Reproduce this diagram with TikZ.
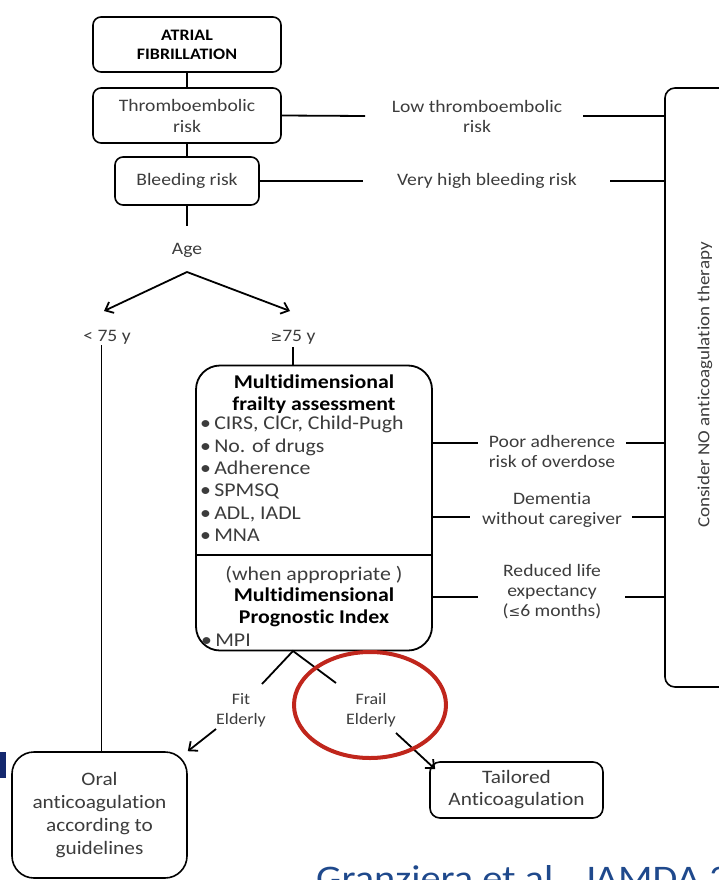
\documentclass[tikz,border=0pt]{standalone}
\usepackage{fontspec}
\setmainfont{Carlito}[FakeStretch=1.12,Ligatures=NoCommon]
\newfontfamily\symfont{DejaVu Sans}
\usetikzlibrary{arrows.meta,calc}
\definecolor{txtgray}{RGB}{60,60,60}
\definecolor{circred}{RGB}{192,38,28}
\definecolor{citeblue}{RGB}{31,73,140}
\definecolor{navybar}{RGB}{20,40,110}
\begin{document}
\begin{tikzpicture}[x=1pt,y=-1pt,
  box/.style={draw, line width=1.6pt, rounded corners=8pt, align=center, inner sep=0pt},
  lbl/.style={text=txtgray, align=center, inner sep=1pt, font=\fontsize{17.5}{20}\selectfont},
  conn/.style={line width=1.8pt},
  arr/.style={line width=1.8pt, -{Straight Barb[length=7pt,width=12pt,line width=1.8pt]}}]
\useasboundingbox (0,0) rectangle (719,880);
\clip (0,0) rectangle (719,880);
% top chain
\node[box, minimum width=188pt, minimum height=55pt, font=\bfseries\fontsize{16}{19}\selectfont] (af) at (187,44.5) {ATRIAL\\FIBRILLATION};
\node[box, minimum width=188pt, minimum height=55pt, text=txtgray, font=\fontsize{17.5}{21}\selectfont] (thr) at (187,115.5) {Thromboembolic\\risk};
\node[box, minimum width=144pt, minimum height=48pt, text=txtgray, font=\fontsize{17.5}{21}\selectfont] (bleed) at (187,181) {Bleeding risk};
\node[lbl] (age) at (187,250) {Age};
\coordinate (agestem) at (187,226);
\coordinate (agefork) at (187,272);
\draw[conn] (af) -- (thr);
\draw[conn] (thr) -- (bleed);
\draw[conn] (bleed.south) -- (agestem);
\node[lbl] (lt) at (107,337) {< 75 y};
\node[lbl] (ge) at (293,337) {{\symfont\fontsize{14}{16}\selectfont ≥}75 y};
\coordinate (ltend) at (104,311);
\coordinate (geend) at (290,311);
\draw[arr] (agefork) -- (ltend);
\draw[arr] (agefork) -- (geend);
% big box
\node[draw, line width=1.8pt, rounded corners=24pt, minimum width=236pt, minimum height=285pt, inner sep=0pt] (mda) at (314,508) {};
\draw[conn] (ge.south) ++(0,2) -- (ge.south |- mda.north);
\draw[line width=1.6pt] (mda.west |- 0,555) -- (mda.east |- 0,555);
\node[align=center, font=\bfseries\fontsize{19.5}{22}\selectfont, inner sep=0pt] (mtitle) at (314,394) {Multidimensional\\frailty assessment};
\node[anchor=north west, align=left, text=txtgray, font=\fontsize{19.5}{22.4}\selectfont, inner sep=0pt] (mlist) at (200,416)
 {\textbullet\,CIRS, ClCr, Child-Pugh\\\textbullet\,No. of drugs\\\textbullet\,Adherence\\\textbullet\,SPMSQ\\\textbullet\,ADL, IADL\\\textbullet\,MNA};
\node[align=center, text=txtgray, font=\fontsize{19.5}{22}\selectfont, inner sep=0pt] (mwhen) at (314,575) {(when appropriate )};
\node[align=center, font=\bfseries\fontsize{19.5}{22}\selectfont, inner sep=0pt] (mpi) at (314,607) {Multidimensional\\Prognostic Index};
\node[anchor=west, text=txtgray, font=\fontsize{19.5}{22}\selectfont, inner sep=0pt] (mpil) at (201,640) {\textbullet\,MPI};
% right tall box
\node[draw, line width=1.6pt, rounded corners=10pt, minimum width=100pt, minimum height=599pt, inner sep=0pt] (nobox) at (715,387.5) {};
\node[rotate=90, text=txtgray, font=\fontsize{17}{20}\selectfont] (notext) at (705,385) {Consider NO anticoagulation therapy};
% side labels
\node[lbl] (lowT) at (477,116) {Low thromboembolic\\risk};
\node[lbl] (vhb) at (487,181) {Very high bleeding risk};
\node[lbl] (poor) at (552,451) {Poor adherence\\risk of overdose};
\node[lbl] (dem) at (552,510) {Dementia\\without caregiver};
\node[lbl] (rle) at (552,592) {Reduced life\\expectancy\\({\symfont\fontsize{14}{16}\selectfont ≤}6 months)};
\coordinate (lowTl) at (365,116);
\coordinate (lowTr) at (583,116);
\coordinate (vhbl) at (363,181);
\coordinate (vhbr) at (610,181);
\coordinate (poorl) at (478,443);
\coordinate (poorr) at (626,443);
\coordinate (deml) at (470,517);
\coordinate (demr) at (632,517);
\coordinate (rlel) at (478,597);
\coordinate (rler) at (625,597);
\draw[conn] (thr.east) -- (lowTl);
\draw[conn] (lowTr) -- (lowTr -| nobox.west);
\draw[conn] (bleed.east) -- (vhbl);
\draw[conn] (vhbr) -- (vhbr -| nobox.west);
\draw[conn] (poorl -| mda.east) -- (poorl);
\draw[conn] (poorr) -- (poorr -| nobox.west);
\draw[conn] (deml -| mda.east) -- (deml);
\draw[conn] (demr) -- (demr -| nobox.west);
\draw[conn] (rlel -| mda.east) -- (rlel);
\draw[conn] (rler) -- (rler -| nobox.west);
% bottom
\coordinate (apex) at (293,651);
\coordinate (fitend) at (262,684);
\coordinate (frailend) at (336,683);
\draw[conn] (fitend) -- (apex) -- (frailend);
\node[lbl, font=\fontsize{16}{20}\selectfont] (fit) at (241,710) {Fit\\Elderly};
\node[lbl, font=\fontsize{16}{20}\selectfont] (frail) at (371,710) {Frail\\Elderly};
\node[box, rounded corners=22pt, minimum width=175pt, minimum height=126pt, text=txtgray, font=\fontsize{19}{23}\selectfont] (oral) at (99.5,815) {Oral\\anticoagulation\\according to\\guidelines};
\node[box, rounded corners=10pt, minimum width=173pt, minimum height=56pt, text=txtgray, font=\fontsize{19}{22}\selectfont] (tail) at (516.5,790) {Tailored\\Anticoagulation};
\draw[conn] ([xshift=2pt]oral.north) -- ([xshift=2pt]oral.north |- lt.south);
\coordinate (fitarr) at (216,729);
\coordinate (frailarr) at (396,733);
\draw[arr] (fitarr) -- (oral.north east);
\draw[arr] (frailarr) -- ([xshift=6pt,yshift=-8pt]tail.north west);
\draw[circred, line width=4pt] (370,705) ellipse [x radius=76pt, y radius=53pt];
% citation and edge fragments
\node[anchor=base west, text=citeblue, font=\fontsize{36}{40}\selectfont, inner sep=0pt] (cite) at (316,890) {Granziera et al., JAMDA 2015};
\fill[navybar] (0,752) rectangle (6,778);
\end{tikzpicture}
\end{document}
